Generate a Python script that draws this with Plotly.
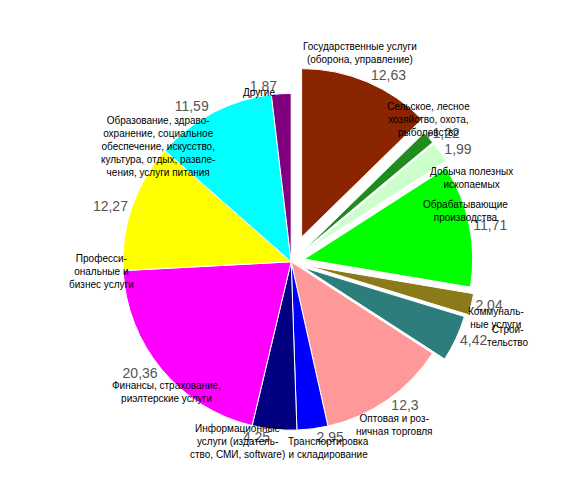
import plotly.graph_objects as go

names = ["Государственные услуги<br>(оборона, управление)", "Сельское, лесное<br>хозяйство, охота,<br>рыболовство",
         "Добыча полезных<br>ископаемых", "Обрабатывающие<br>производства", "Коммуналь-<br>ные услуги",
         "Строи-<br>тельство", "Оптовая и роз-<br>ничная торговля", "Транспортировка<br>и складирование",
         "Информационные<br>услуги (издатель-<br>ство, СМИ, software)", "Финансы, страхование,<br>риэлтерские услуги",
         "Професси-<br>ональные и<br>бизнес услуги",
         "Образование, здраво-<br>охранение, социальное<br>обеспечение, искусство,<br>культура, отдых, развле-<br>чения, услуги питания",
         "Другие"]
values = [12.63, 1.22, 1.99, 11.71, 2.04, 4.42, 12.3, 2.95, 4.25, 20.36, 12.27, 11.59, 1.87]
labels = ["12,63", "1,22", "1,99", "11,71", "2,04", "4,42", "12,3", "2,95", "4,25", "20,36", "12,27", "11,59", "1,87"]
colors = ["#8B2500", "#1E8C1E", "#CCFFCC", "#00FF00", "#8B7A1A", "#2E7D7D", "#FF9999", "#0000FF",
          "#000080", "#FF00FF", "#FFFF00", "#00FFFF", "#800080"]
pull = [0.16, 0.1, 0.1, 0.08, 0.1, 0.08, 0, 0, 0, 0, 0, 0, 0]

fig = go.Figure(go.Pie(values=values, labels=names, text=labels, textinfo="text", textposition="outside",
                       sort=False, direction="clockwise", rotation=0, pull=pull,
                       marker=dict(colors=colors, line=dict(color="white", width=1)),
                       textfont=dict(color="#555", size=14, family="Arial"),
                       domain=dict(x=[0.1, 0.88], y=[0.06, 0.9]), showlegend=False, hole=0))

ann = [(0.62, 0.96, 0), (0.83, 0.83, 1), (0.91, 0.69, 2), (0.9, 0.59, 3), (0.93, 0.36, 4), (0.94, 0.29, 5),
       (0.76, 0.1, 6), (0.56, 0.05, 7), (0.39, 0.05, 8), (0.15, 0.17, 9), (0.07, 0.46, 10), (0.13, 0.8, 11), (0.43, 0.86, 12)]
for x, y, i in ann:
    fig.add_annotation(x=x, y=y, xref="paper", yref="paper", text=names[i], showarrow=False,
                       font=dict(size=10, color="black", family="Arial"), align="center")

fig.update_layout(width=585, height=496, margin=dict(l=0, r=0, t=0, b=0), paper_bgcolor="white")
fig.write_html("out.html")
